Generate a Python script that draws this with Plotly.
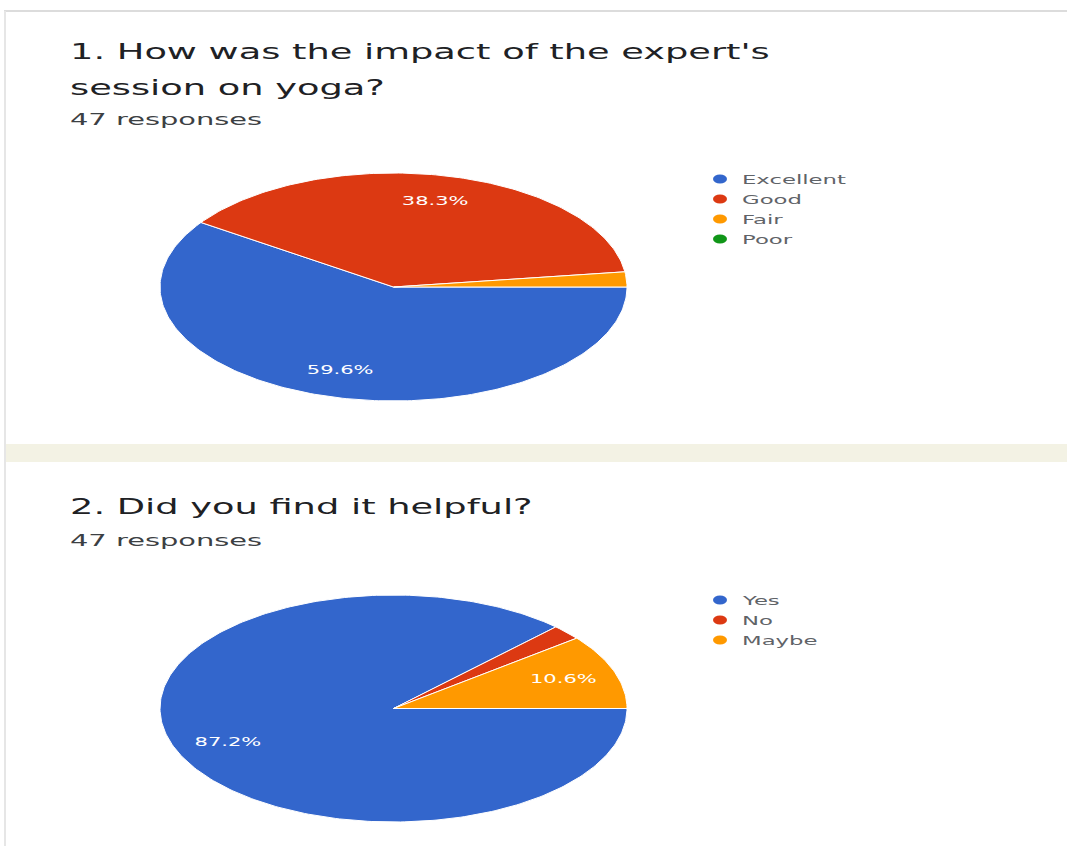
import numpy as np
import plotly.graph_objects as go

# survey data (47 responses each)
q1_title = ["1. How was the impact of the expert's", "session on yoga?"]
q1_labels = ["Excellent", "Good", "Fair", "Poor"]
q1_counts = [28, 18, 1, 0]

q2_title = ["2. Did you find it helpful?"]
q2_labels = ["Yes", "No", "Maybe"]
q2_counts = [41, 1, 5]

responses = "47 responses"
colors = ["#3366cc", "#dc3912", "#ff9900", "#109618"]

W, H = 1067, 846
FONT = "DejaVu Sans"
STRETCH = 1.75  # the screenshot is squeezed vertically, so text looks wide


def px(x):
    return x / W


def py(y):
    # pixel row -> paper y
    return 1 - y / H


def add_pie(fig, labels, counts, xa, ya):
    total = sum(counts)
    start = 0.0
    for i, (lab, c) in enumerate(zip(labels, counts)):
        frac = c / total
        col = colors[i % len(colors)]
        if c > 0:
            # slices run clockwise from 3 o'clock
            t = -2 * np.pi * np.linspace(start, start + frac, max(int(frac * 360), 2))
            xs = np.concatenate([[0], np.cos(t), [0]])
            ys = np.concatenate([[0], np.sin(t), [0]])
            fig.add_trace(go.Scatter(
                x=xs, y=ys, mode="lines", fill="toself", fillcolor=col,
                line=dict(color="white", width=1), name=lab, hoverinfo="name",
                showlegend=False, xaxis=xa, yaxis=ya
            ))
            if frac > 0.05:
                mid = -2 * np.pi * (start + frac / 2)
                fig.add_trace(go.Scatter(
                    x=[0.77 * np.cos(mid)], y=[0.77 * np.sin(mid)], mode="text",
                    text=[f"{frac * 100:.1f}%"],
                    textfont=dict(color="white", size=12, family=FONT),
                    showlegend=False, hoverinfo="skip", xaxis=xa, yaxis=ya
                ))
        start += frac


def text_note(text, x, y, size, color):
    return dict(text=text, x=px(x), y=py(y), xref="paper", yref="paper",
                xanchor="left", yanchor="middle", align="left", showarrow=False,
                font=dict(family=FONT, size=size, color=color))


def legend_block(labels, x, y0, step=20):
    # google-forms style legend: dot + label per category
    dots, texts = [], []
    for i, lab in enumerate(labels):
        y = y0 + step * i
        dots.append(dict(type="circle", xref="paper", yref="paper",
                         x0=px(x - 7), x1=px(x + 7), y0=py(y + 4.5), y1=py(y - 4.5),
                         fillcolor=colors[i % len(colors)], line=dict(width=0)))
        texts.append(text_note(lab, x + 20, y, 13, "#5f6368"))
    return dots, texts


fig = go.Figure()
add_pie(fig, q1_labels, q1_counts, "x", "y")
add_pie(fig, q2_labels, q2_counts, "x2", "y2")

ax = dict(range=[-1.0, 1.0], visible=False, fixedrange=True)

notes = [text_note(line, 68, 52 + 36 * k, 21, "#202124") for k, line in enumerate(q1_title)]
notes.append(text_note(responses, 68, 120, 16.5, "#3c4043"))
notes += [text_note(line, 68, 507 + 36 * k, 21, "#202124") for k, line in enumerate(q2_title)]
notes.append(text_note(responses, 68, 540, 16.5, "#3c4043"))

dots1, leg1 = legend_block(q1_labels, 720, 179)
dots2, leg2 = legend_block(q2_labels, 720, 600)

shapes = [
    # card edges and the gap between the two cards
    dict(type="line", xref="paper", yref="paper", x0=px(4), x1=1, y0=py(11), y1=py(11),
         line=dict(color="#dcdcdc", width=2)),
    dict(type="line", xref="paper", yref="paper", x0=px(5), x1=px(5), y0=py(11), y1=0,
         line=dict(color="#e6e6e6", width=2)),
    dict(type="rect", xref="paper", yref="paper", x0=px(5), x1=1, y0=py(462), y1=py(444),
         fillcolor="#f3f2e4", line=dict(width=0), layer="below"),
]

fig.update_layout(
    width=W, height=H,
    margin=dict(l=0, r=0, t=0, b=0),
    paper_bgcolor="white", plot_bgcolor="rgba(0,0,0,0)",
    showlegend=False,
    xaxis=dict(ax, domain=[px(160), px(627)]),
    yaxis=dict(ax, domain=[py(401), py(173)]),
    xaxis2=dict(ax, domain=[px(160), px(627)]),
    yaxis2=dict(ax, domain=[py(822), py(595)]),
    shapes=shapes + dots1 + dots2,
    annotations=notes + leg1 + leg2,
)

post = """
document.body.style.margin = '0';
var gd = document.getElementById('{plot_id}');
function stretchText() {
  gd.querySelectorAll('text.annotation-text, g.textpoint text').forEach(function (t) {
    if (t.getAttribute('data-w')) return;
    var w = t.getComputedTextLength();
    if (!w) return;
    t.setAttribute('data-w', w);
    t.setAttribute('textLength', w * %s);
    t.setAttribute('lengthAdjust', 'spacingAndGlyphs');
  });
}
stretchText();
gd.on('plotly_afterplot', stretchText);
[50, 200, 500, 1000].forEach(function (ms) { setTimeout(stretchText, ms); });
""" % STRETCH

fig.write_html("out.html", post_script=post, config={"displayModeBar": False})
